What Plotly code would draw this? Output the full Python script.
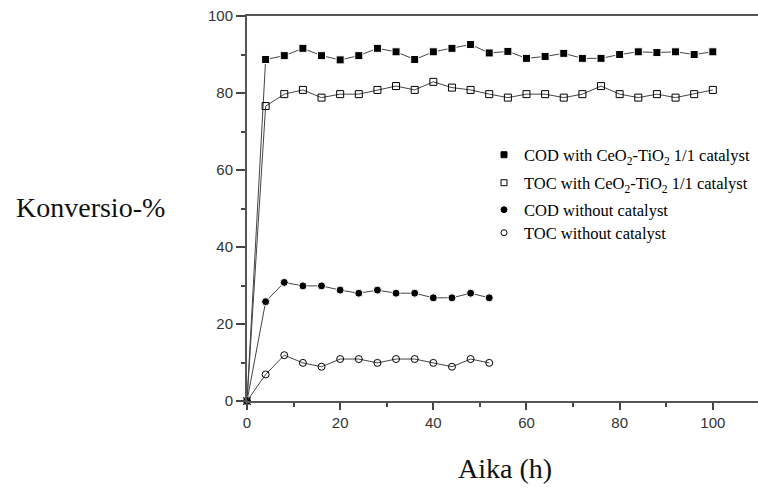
import plotly.graph_objects as go

hours = [0, 4, 8, 12, 16, 20, 24, 28, 32, 36, 40, 44, 48, 52, 56, 60, 64, 68, 72, 76, 80, 84, 88, 92, 96, 100]
cod_cat = [0, 88.7, 89.7, 91.6, 89.7, 88.6, 89.7, 91.6, 90.7, 88.7, 90.7, 91.6, 92.6, 90.4, 90.8, 89.0, 89.5, 90.3, 89.0, 89.0, 90.0, 90.7, 90.5, 90.7, 90.0, 90.7]
toc_cat = [0, 76.6, 79.7, 80.8, 78.8, 79.7, 79.7, 80.8, 81.8, 80.8, 82.9, 81.4, 80.8, 79.7, 78.8, 79.7, 79.7, 78.8, 79.7, 81.8, 79.7, 78.8, 79.7, 78.8, 79.7, 80.8]
hours_nocat = [0, 4, 8, 12, 16, 20, 24, 28, 32, 36, 40, 44, 48, 52]
cod_nocat = [0, 25.8, 30.8, 29.9, 29.9, 28.8, 28.0, 28.8, 28.0, 28.0, 26.8, 26.8, 28.0, 26.8]
toc_nocat = [0, 6.9, 11.9, 9.9, 8.9, 10.9, 10.9, 9.9, 10.9, 10.9, 9.9, 8.9, 10.9, 9.9]

names = [
    "COD with CeO<sub>2</sub>-TiO<sub>2</sub> 1/1 catalyst",
    "TOC with CeO<sub>2</sub>-TiO<sub>2</sub> 1/1 catalyst",
    "COD without catalyst",
    "TOC without catalyst",
]
x_ticks = [0, 20, 40, 60, 80, 100]
y_ticks = [0, 20, 40, 60, 80, 100]

fig = go.Figure()
series = [
    (hours, cod_cat, "square", "legend"),
    (hours, toc_cat, "square-open", "legend2"),
    (hours_nocat, cod_nocat, "circle", "legend3"),
    (hours_nocat, toc_nocat, "circle-open", "legend4"),
]
for (xs, ys, sym, lg), nm in zip(series, names):
    filled = not sym.endswith("open")
    fig.add_trace(go.Scatter(
        x=xs, y=ys, name=nm, mode="lines+markers", showlegend=False,
        line=dict(color="#444", width=1),
        marker=dict(symbol=sym, size=8 if filled else 7, color="black",
                    line=dict(color="white" if filled else "black", width=1)),
        cliponaxis=False,
    ))
    # legend-only entry (markers only, as in the reference legend)
    fig.add_trace(go.Scatter(
        x=[None], y=[None], name=nm, mode="markers", legend=lg, showlegend=True,
        marker=dict(symbol=sym, size=6 if filled else 6, color="black",
                    line=dict(color="black", width=1)),
    ))

leg_common = dict(xanchor="left", yanchor="middle", bgcolor="rgba(0,0,0,0)",
                  font=dict(family="Liberation Serif", size=16.5, color="#000"),
                  itemwidth=30)
ys_leg = [155, 183, 210, 233]
def py(p):
    return (401 - p) / 385.0
lx = (484 - 247) / 511
fig.update_layout(
    legend=dict(x=lx, y=py(ys_leg[0]), **leg_common),
    legend2=dict(x=lx, y=py(ys_leg[1]), **leg_common),
    legend3=dict(x=lx, y=py(ys_leg[2]), **leg_common),
    legend4=dict(x=lx, y=py(ys_leg[3]), **leg_common),
)

fig.update_layout(
    width=758, height=488,
    margin=dict(l=247, r=0, t=16, b=87),
    paper_bgcolor="white", plot_bgcolor="white",
    showlegend=True,
    xaxis=dict(range=[0, 109.7], tickvals=x_ticks, ticks="outside", ticklen=7, tickwidth=1.5,
               tickcolor="#444", showline=True, linecolor="#555", linewidth=2, mirror=True,
               showgrid=False, zeroline=False,
               tickfont=dict(family="Liberation Sans", size=15, color="#333"),
               minor=dict(tickvals=[10, 30, 50, 70, 90], ticks="outside", ticklen=4, tickcolor="#444")),
    yaxis=dict(range=[0, 100], tickvals=y_ticks, ticks="outside", ticklen=9, tickwidth=1.5,
               tickcolor="#444", showline=True, linecolor="#555", linewidth=2,
               showgrid=False, zeroline=False,
               tickfont=dict(family="Liberation Sans", size=15, color="#333"),
               minor=dict(tickvals=[10, 30, 50, 70, 90], ticks="outside", ticklen=4, tickcolor="#444")),
    annotations=[
        dict(text="Konversio-%", xref="paper", yref="paper", x=-247/511 + 90/511, y=py(207),
             showarrow=False, xanchor="center", yanchor="middle",
             font=dict(family="Liberation Serif", size=28, color="#111")),
        dict(text="Aika (h)", xref="paper", yref="paper", x=(505 - 247) / 511, y=py(468),
             showarrow=False, xanchor="center", yanchor="middle",
             font=dict(family="Liberation Serif", size=28, color="#111")),
    ],
)

fig.write_html("out.html")
